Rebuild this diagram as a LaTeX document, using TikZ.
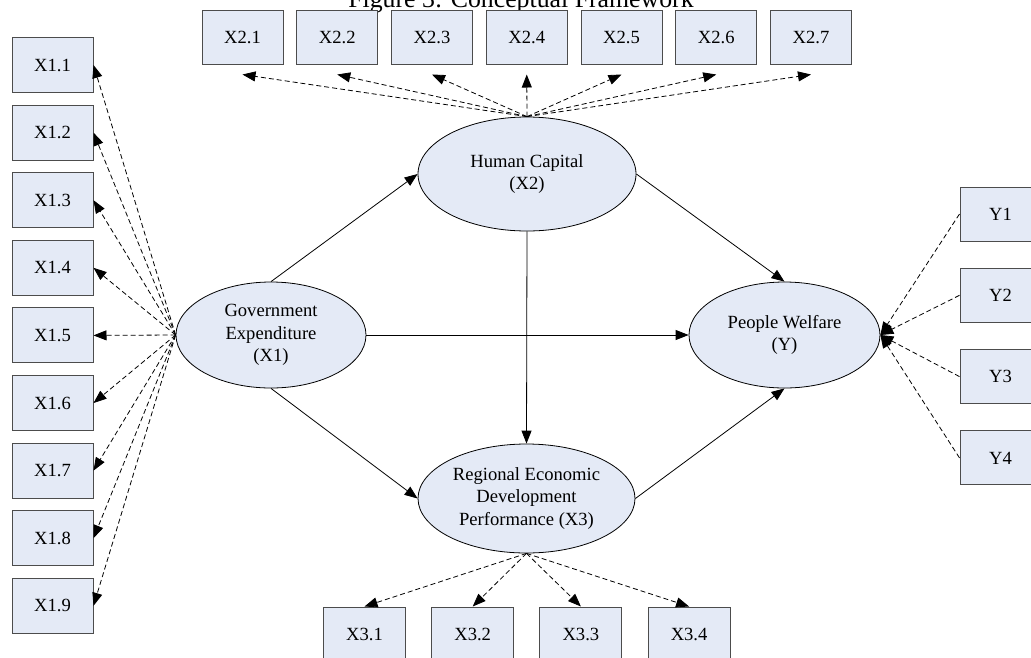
\documentclass[tikz,border=0pt]{standalone}
\usepackage{fontspec}
\setmainfont{Liberation Serif}
\usetikzlibrary{arrows.meta,shapes.geometric}
\definecolor{boxfill}{RGB}{228,234,246}
\begin{document}
\begin{tikzpicture}[x=1pt,y=-1pt,
  every node/.style={font=\fontsize{18.6}{22.5}\selectfont, text=black},
  indbox/.style={draw=black!70, fill=boxfill, line width=1pt, minimum width=81pt, minimum height=54pt, inner sep=0pt},
  latent/.style={ellipse, draw=black, fill=boxfill, line width=0.8pt, inner sep=0pt, align=center},
  path/.style={draw=black, line width=0.8pt, -{Triangle[length=13pt,width=10pt]}},
  load/.style={draw=black, line width=0.8pt, dash pattern=on 5pt off 3pt, -{Triangle[length=13pt,width=10pt]}}
]
\useasboundingbox (0,0) rectangle (1031,657);
% title (cut at top, as in the reference)
\node[font=\fontsize{25.8}{28}\selectfont, anchor=base, inner sep=0pt] (title) at (521,7) {Figure 3: Conceptual Framework};

% latent variables
\node[latent, minimum width=218pt, minimum height=114pt] (hc) at (527,174) {Human Capital\\(X2)};
\node[latent, minimum width=190pt, minimum height=106pt] (ge) at (271,335) {Government\\Expenditure\\(X1)};
\node[latent, minimum width=191pt, minimum height=106pt] (pw) at (784.5,335) {People Welfare\\(Y)};
\node[latent, minimum width=217pt, minimum height=109pt] (re) at (526.5,498.5) {Regional Economic\\Development\\Performance (X3)};

% X1 indicators
\foreach \i in {1,...,9} {
  \node[indbox, minimum height=55pt] (x1\i) at (52.5,{65+67.6*(\i-1)}) {X1.\i};
}
% X2 indicators
\foreach \i in {1,...,7} {
  \node[indbox] (x2\i) at ({242.5+94.75*(\i-1)},37) {X2.\i};
}
% X3 indicators
\foreach \i in {1,...,4} {
  \node[indbox, minimum width=82pt, minimum height=55pt] (x3\i) at ({364.5+108.2*(\i-1)},634.5) {X3.\i};
}
% Y indicators
\foreach \i in {1,...,4} {
  \node[indbox] (y\i) at (1000.5,{214+81.3*(\i-1)}) {Y\i};
}

% structural paths
\draw[path] (ge.north) -- (hc.west);
\draw[path] (hc.east) -- (pw.north);
\draw[path] (ge.east) -- (pw.west);
\draw[path] (hc.south) -- (re.north);
\draw[path] (ge.south) -- (re.west);
\draw[path] (re.east) -- (pw.south);

% loadings
\foreach \i in {1,...,9} { \draw[load] (ge.west) -- (x1\i.east); }
\foreach \i in {1,...,7} { \draw[load] (hc.north) -- ([yshift=-10pt]x2\i.south); }
\foreach \i in {1,...,4} { \draw[load] (re.south) -- (x3\i.north); }
\foreach \i in {1,...,4} { \draw[load] (y\i.west) -- (pw.east); }
\end{tikzpicture}
\end{document}
